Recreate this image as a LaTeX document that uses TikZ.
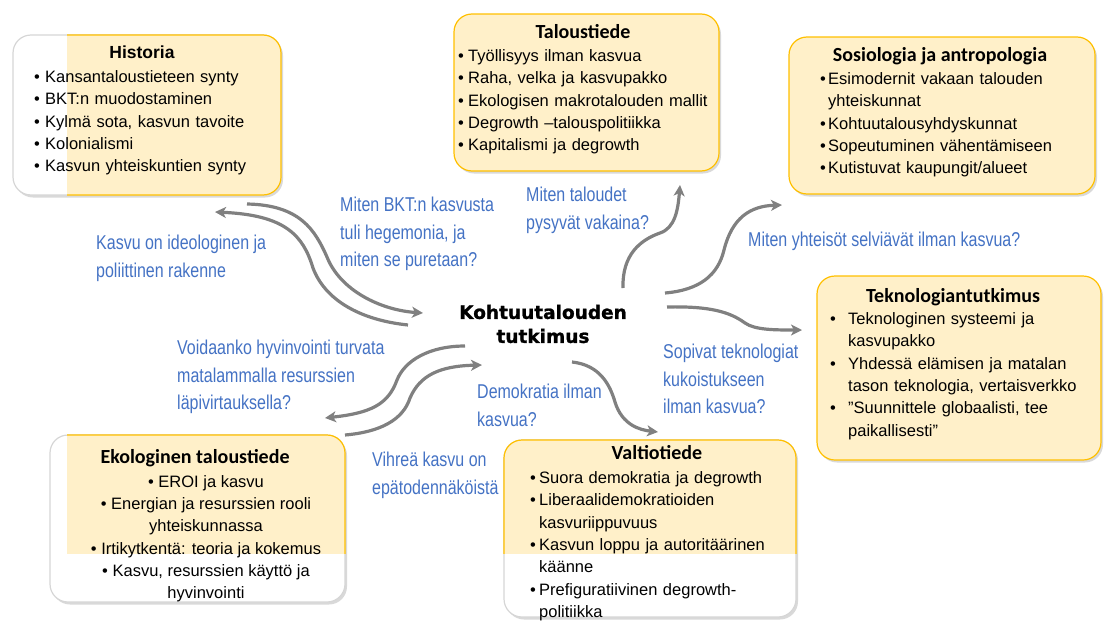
\documentclass[tikz,border=0pt]{standalone}
\usepackage{fontspec}
\setmainfont{Liberation Sans}
\newfontfamily\narrowfont{Liberation Sans}[FakeStretch=0.8]
\newfontfamily\headfont{Carlito}
\newfontfamily\heavyfont{DejaVu Sans}[BoldFeatures={FakeBold=1.3}]
\usetikzlibrary{arrows.meta,shadows}

\definecolor{boxfill}{HTML}{FFF0C9}
\definecolor{boxedge}{HTML}{FFC000}
\definecolor{softedge}{HTML}{D6D6D6}
\definecolor{noteblue}{HTML}{4472C4}
\definecolor{flowgray}{HTML}{808080}

\newcommand{\itm}[2][10pt]{\par\hangindent=#1\hangafter=1\noindent\hbox to #1{\textbullet\hfil}#2}

\tikzset{
  tint/.style={draw=boxedge, fill=boxfill, line width=1.2pt, rounded corners=18pt},
  panel/.style={tint, rectangle, outer sep=0pt, drop shadow={opacity=0.3, shadow xshift=2pt, shadow yshift=-2.5pt}},
  plain panel/.style={panel, draw=softedge, fill=white},
  head/.style={anchor=base, inner sep=0pt, font=\headfont\bfseries\fontsize{20}{24}\selectfont},
  items/.style={anchor=north west, inner sep=0pt, align=left, font=\fontsize{16.5}{22.3}\selectfont},
  note/.style={anchor=north west, inner sep=0pt, align=left, text=noteblue, font=\narrowfont\fontsize{20}{27.5}\selectfont},
  flow/.style={draw=flowgray, line width=3.2pt, -{Stealth[length=11pt,width=11pt,inset=3pt]}}
}

\begin{document}
\begin{tikzpicture}[x=1pt, y=-1pt]
  \useasboundingbox (0,0) rectangle (1105,621);

  \node[plain panel, minimum width=268pt, minimum height=160pt] (hist) at (147,115) {};
  \begin{scope}
    \clip (67,20) rectangle (300,210);
    \path[tint] (hist.north west) rectangle (hist.south east);
  \end{scope}
  \node[panel, minimum width=265pt, minimum height=157pt] (talo) at (586.5,92.5) {};
  \node[panel, minimum width=306pt, minimum height=157pt] (sozi) at (942,115.5) {};
  \node[panel, minimum width=284pt, minimum height=184pt] (tekn) at (959,368) {};
  \node[plain panel, minimum width=295pt, minimum height=167pt] (ekol) at (197.5,518.5) {};
  \begin{scope}
    \clip (67,425) rectangle (355,553);
    \path[tint] (ekol.north west) rectangle (ekol.south east);
  \end{scope}
  \node[plain panel, minimum width=292pt, minimum height=177pt] (valt) at (650,528.5) {};
  \begin{scope}
    \clip (495,430) rectangle (805,553);
    \path[tint] (valt.north west) rectangle (valt.south east);
  \end{scope}

  \node[head, font=\bfseries\fontsize{17.5}{20}\selectfont] (histT) at (142,58) {Historia};
  \node[items, text width=245pt] (histL) at (34,60) {%
    \itm[11pt]{Kansantaloustieteen synty}
    \itm[11pt]{BKT:n muodostaminen}
    \itm[11pt]{Kylmä sota, kasvun tavoite}
    \itm[11pt]{Kolonialismi}
    \itm[11pt]{Kasvun yhteiskuntien synty}\par};

  \node[head] (taloT) at (583,38.5) {Taloustiede};
  \node[items, text width=255pt] (taloL) at (458,39) {%
    \itm{Työllisyys ilman kasvua}
    \itm{Raha, velka ja kasvupakko}
    \itm{Ekologisen makrotalouden mallit}
    \itm{Degrowth –talouspolitiikka}
    \itm{Kapitalismi ja degrowth}\par};

  \node[head] (soziT) at (940,61.5) {Sosiologia ja antropologia};
  \node[items, text width=265pt] (soziL) at (820,62) {%
    \itm[8pt]{Esimodernit vakaan talouden\newline yhteiskunnat}
    \itm[8pt]{Kohtuutalousyhdyskunnat}
    \itm[8pt]{Sopeutuminen vähentämiseen}
    \itm[8pt]{Kutistuvat kaupungit/alueet}\par};

  \node[head] (teknT) at (953,302.5) {Teknologiantutkimus};
  \node[items, text width=268pt] (teknL) at (830,302) {%
    \itm[18pt]{Teknologinen systeemi ja\newline kasvupakko}
    \itm[18pt]{Yhdessä elämisen ja matalan\newline tason teknologia, vertaisverkko}
    \itm[18pt]{”Suunnittele globaalisti, tee\newline paikallisesti”}\par};

  \node[head] (ekolT) at (195,463.5) {Ekologinen taloustiede};
  \node[items, anchor=north, align=center] (ekolL) at (206,475) {%
    \textbullet\ EROI ja kasvu\\
    \textbullet\ Energian ja resurssien rooli\\
    yhteiskunnassa\\
    \textbullet\ Irtikytkentä: teoria ja kokemus\\
    \textbullet\ Kasvu, resurssien käyttö ja\\
    hyvinvointi};

  \node[head] (valtT) at (657,459.5) {Valtiotiede};
  \node[items, text width=262pt] (valtL) at (530,461) {%
    \itm[9pt]{Suora demokratia ja degrowth}
    \itm[9pt]{Liberaalidemokratioiden\newline kasvuriippuvuus}
    \itm[9pt]{Kasvun loppu ja autoritäärinen\newline käänne}
    \itm[9pt]{Prefiguratiivinen degrowth-\newline politiikka}\par};

  \node[align=center, inner sep=0pt, font=\heavyfont\bfseries\fontsize{18.5}{24}\selectfont] (core) at (543,324) {Kohtuutalouden\\tutkimus};

  \node[note] (hegem) at (340,197) {Miten BKT:n kasvusta\\tuli hegemonia, ja\\miten se puretaan?};
  \node[note] (ideo) at (96,235) {Kasvu on ideologinen ja\\poliittinen rakenne};
  \node[note] (vakaa) at (526,187) {Miten taloudet\\pysyvät vakaina?};
  \node[note] (yhteis) at (748,232) {Miten yhteisöt selviävät ilman kasvua?};
  \node[note] (resurssi) at (177,340) {Voidaanko hyvinvointi turvata\\matalammalla resurssien\\läpivirtauksella?};
  \node[note] (demo) at (477,384) {Demokratia ilman\\kasvua?};
  \node[note] (sopivat) at (663,344) {Sopivat teknologiat\\kukoistukseen\\ilman kasvua?};
  \node[note] (vihrea) at (372,452) {Vihreä kasvu on\\epätodennäköistä};

  \draw[flow] ([shift={(-135,1)}]core.center) .. controls (360,320) and (325,300) .. (313,268) .. controls (303,235) and (285,215) .. ([shift={(68,17)}]hist.south);
  \draw[flow] ([shift={(100,9)}]hist.south) .. controls (300,205) and (315,230) .. (327,257) .. controls (340,290) and (380,310) .. ([shift={(-120,-11)}]core.center);
  \draw[flow] ([shift={(-78,22)}]core.center) .. controls (430,346) and (405,360) .. (397,380) .. controls (388,405) and (370,413) .. ([shift={(127.5,-17)}]ekol.north);
  \draw[flow] (ekol.north east) .. controls (380,432) and (403,420) .. (410,398) .. controls (420,375) and (440,366) .. ([shift={(-61,41)}]core.center);
  \draw[flow] ([shift={(29,38)}]core.center) .. controls (600,365) and (610,385) .. (615,402) .. controls (622,425) and (640,430) .. ([shift={(8,-8)}]valt.north);
  \draw[flow] ([shift={(80,-36)}]core.center) .. controls (622,255) and (640,240) .. (660,233) .. controls (675,228) and (678,210) .. ([shift={(93.5,14)}]talo.south);
  \draw[flow] ([shift={(122,-31)}]core.center) .. controls (700,290) and (718,275) .. (724,250) .. controls (732,218) and (750,206) .. ([shift={(-160,11)}]sozi.south);
  \draw[flow] ([shift={(124,-17)}]core.center) .. controls (710,306) and (730,312) .. (745,323) .. controls (755,330) and (775,330) .. ([shift={(-15,-38)}]tekn.west);
\end{tikzpicture}
\end{document}
